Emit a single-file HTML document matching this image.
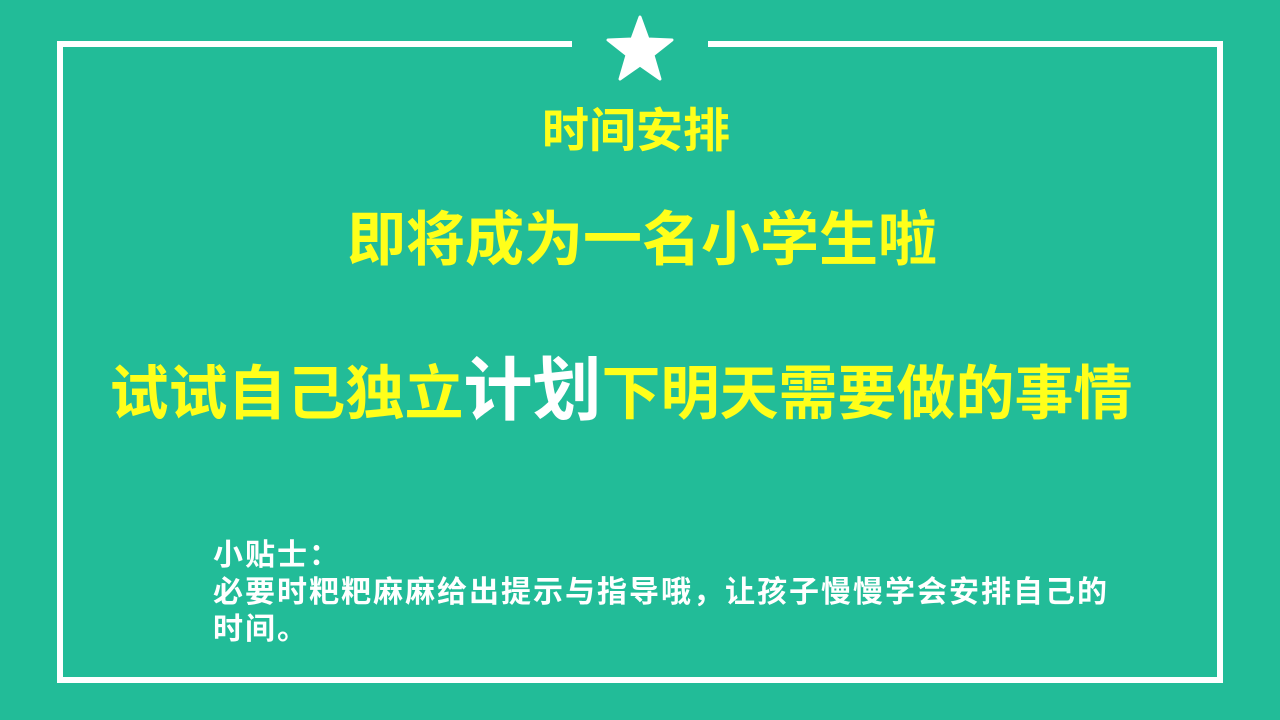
<!DOCTYPE html>
<html><head><meta charset="utf-8"><style>
html,body{margin:0;padding:0}
body{width:1280px;height:720px;background:#22bc98;position:relative;overflow:hidden;font-family:"Liberation Sans","Noto Sans CJK SC",sans-serif;font-weight:bold}
.ln{position:absolute;background:#fff}
.t{position:absolute;left:0;width:1280px;text-align:center;color:#ffff1a;white-space:nowrap;line-height:1}
</style></head><body>
<div class="ln" style="left:57px;top:41px;width:515px;height:6px"></div>
<div class="ln" style="left:708px;top:41px;width:515px;height:6px"></div>
<div class="ln" style="left:57px;top:41px;width:6px;height:642px"></div>
<div class="ln" style="left:1217px;top:41px;width:6px;height:642px"></div>
<div class="ln" style="left:57px;top:677px;width:1166px;height:6px"></div>
<svg style="position:absolute;left:606px;top:15px" width="68" height="66" viewBox="0 0 68 66">
<polygon points="34,2 42,24 66,25 47,40 54,64 34,50 14,64 21,40 2,25 26,24" fill="#fff" stroke="#fff" stroke-width="3" stroke-linejoin="round"/>
</svg>
<div class="t" style="top:107px;font-size:47px;left:-4px">时间安排</div>
<div class="t" style="top:211px;font-size:59px;left:2px">即将成为一名小学生啦</div>
<div class="t" style="top:356px;font-size:59px;left:-19px">试试自己独立<span style="color:#fff;font-size:69px">计划</span>下明天需要做的事情</div>
<div style="position:absolute;left:213px;top:537px;color:#fff;font-size:30px;letter-spacing:2px;line-height:37px;white-space:nowrap">小贴士：<br>必要时粑粑麻麻给出提示与指导哦，让孩子慢慢学会安排自己的<br>时间。</div>
</body></html>
